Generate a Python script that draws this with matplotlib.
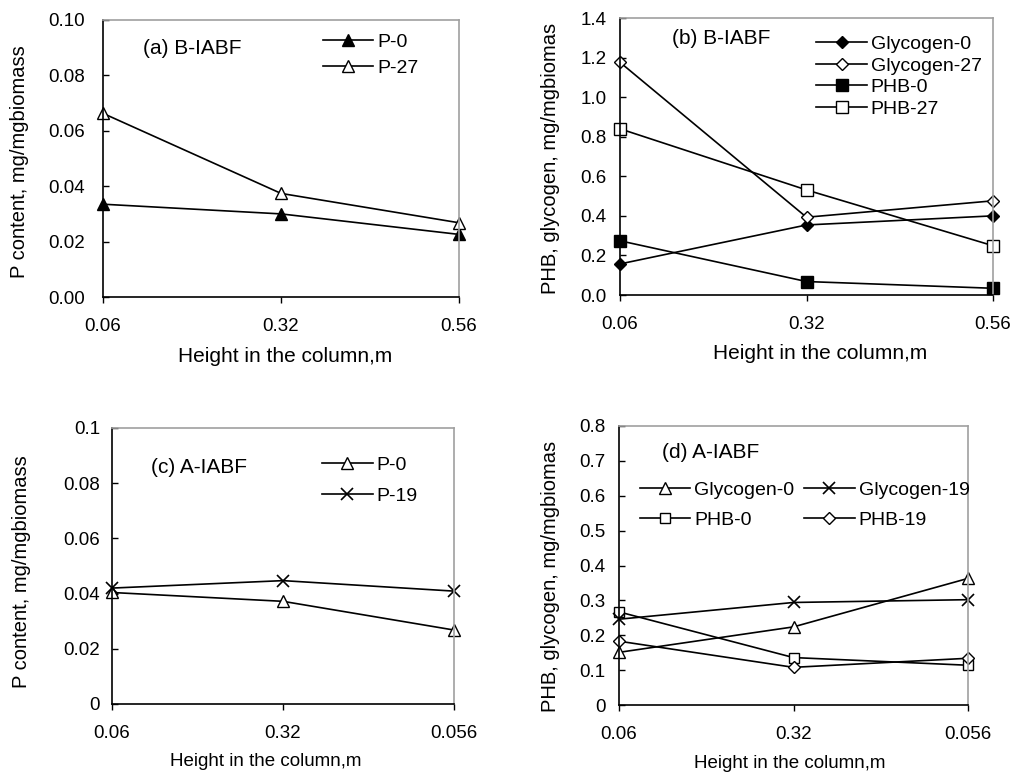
import matplotlib
matplotlib.use("Agg")
import matplotlib.pyplot as plt

plt.rcParams['font.family'] = ['Liberation Sans', 'DejaVu Sans']

# ---------------- data ----------------
heights_top = ["0.06", "0.32", "0.56"]
heights_bottom = ["0.06", "0.32", "0.056"]

a_p0 = [0.0335, 0.0300, 0.0226]
a_p27 = [0.0663, 0.0374, 0.0268]

b_glycogen0 = [0.157, 0.354, 0.400]
b_glycogen27 = [1.176, 0.393, 0.476]
b_phb0 = [0.274, 0.068, 0.034]
b_phb27 = [0.840, 0.531, 0.249]

c_p0 = [0.0404, 0.0372, 0.0268]
c_p19 = [0.0420, 0.0447, 0.0409]

d_glycogen0 = [0.151, 0.224, 0.363]
d_glycogen19 = [0.246, 0.294, 0.302]
d_phb0 = [0.267, 0.136, 0.114]
d_phb19 = [0.183, 0.108, 0.134]

a_yticks = [0.00, 0.02, 0.04, 0.06, 0.08, 0.10]
b_yticks = [0.0, 0.2, 0.4, 0.6, 0.8, 1.0, 1.2, 1.4]
c_yticks = [0, 0.02, 0.04, 0.06, 0.08, 0.1]
d_yticks = [0, 0.1, 0.2, 0.3, 0.4, 0.5, 0.6, 0.7, 0.8]

xlabel = "Height in the column,m"
ylabel_p = "P content, mg/mgbiomass"
ylabel_g = "PHB, glycogen, mg/mgbiomas"

W, H = 1014, 772
fig = plt.figure(figsize=(W / 100, H / 100), dpi=100)


def ax_at(l, t, r, b):
    return fig.add_axes([l / W, 1 - b / H, (r - l) / W, (b - t) / H])


def style(ax, cats, yticks, yfmt, ypad, xpad):
    x = list(range(len(cats)))
    ax.set_xlim(x[0], x[-1])
    ax.set_xticks(x)
    ax.set_xticklabels(cats)
    ax.set_ylim(yticks[0], yticks[-1])
    ax.set_yticks(yticks)
    ax.set_yticklabels([yfmt.format(v) if yfmt else ("0" if v == 0 else f"{v:g}") for v in yticks])
    for s in ("left", "bottom"):
        ax.spines[s].set_color("black")
        ax.spines[s].set_linewidth(1.2)
    for s in ("top", "right"):
        ax.spines[s].set_color("#a0a0a0")
        ax.spines[s].set_linewidth(1.2)
    ax.tick_params(axis="y", direction="in", length=4, width=1, pad=ypad, labelsize=13.5)
    ax.tick_params(axis="x", direction="out", length=4, width=1, pad=xpad, labelsize=13.5)


def place_labels(ax, xl, yl, xpos, ypos, size_x=15, size_y=14.5):
    ax.set_xlabel(xl, fontsize=size_x)
    ax.set_ylabel(yl, fontsize=size_y)
    ax.xaxis.set_label_coords(xpos[0] / W, 1 - xpos[1] / H, transform=fig.transFigure)
    ax.yaxis.set_label_coords(ypos[0] / W, 1 - ypos[1] / H, transform=fig.transFigure)
    ax.xaxis.label.set_verticalalignment("center")
    ax.yaxis.label.set_verticalalignment("center")


LW = 1.2
kw = dict(color="black", lw=LW, markeredgecolor="black", clip_on=False)

# ---------------- (a) ----------------
ax = ax_at(103, 20, 459, 297)
x = range(len(heights_top))
ax.plot(x, a_p0, marker="^", ms=9, markerfacecolor="black", label="P-0", **kw)
ax.plot(x, a_p27, marker="^", ms=9, markerfacecolor="white", label="P-27", **kw)
style(ax, heights_top, a_yticks, "{:.2f}", 13, 11)
place_labels(ax, xlabel, ylabel_p, (285, 357), (20, 162))
ax.text(143 / W, 1 - 49 / H, "(a) B-IABF", transform=fig.transFigure, fontsize=15, va="center", ha="left")
ax.legend(loc="upper left", bbox_to_anchor=((326 - 103) / 356 - 0.02, 1 - (25 - 20) / 277 - 0.016),
          frameon=False, fontsize=14, handlelength=2.6, handletextpad=0.2, labelspacing=0.45,
          borderaxespad=0.0, borderpad=0.2)

# ---------------- (b) ----------------
ax = ax_at(620, 18, 993, 295)
x = range(len(heights_top))
ax.plot(x, b_glycogen0, marker="D", ms=6, markerfacecolor="black", label="Glycogen-0", **kw)
ax.plot(x, b_glycogen27, marker="D", ms=6, markerfacecolor="white", label="Glycogen-27", **kw)
ax.plot(x, b_phb0, marker="s", ms=8, markerfacecolor="black", label="PHB-0", **kw)
ax.plot(x, b_phb27, marker="s", ms=8, markerfacecolor="white", label="PHB-27", **kw)
style(ax, heights_top, b_yticks, "{:.1f}", 9.5, 11)
place_labels(ax, xlabel, ylabel_g, (820, 353), (550, 158))
ax.text(672 / W, 1 - 39 / H, "(b) B-IABF", transform=fig.transFigure, fontsize=15, va="center", ha="left")
ax.legend(loc="upper left", bbox_to_anchor=((820 - 620) / 373 - 0.02, 1 - (30 - 18) / 277 - 0.006),
          frameon=False, fontsize=14, handlelength=2.6, handletextpad=0.2, labelspacing=0.2,
          borderaxespad=0.0, borderpad=0.2)

# ---------------- (c) ----------------
ax = ax_at(112, 428, 454, 704)
x = range(len(heights_bottom))
ax.plot(x, c_p0, marker="^", ms=9, markerfacecolor="white", label="P-0", **kw)
ax.plot(x, c_p19, marker="x", ms=9, mew=1.2, label="P-19", **kw)
style(ax, heights_bottom, c_yticks, None, 8.6, 11)
place_labels(ax, xlabel, ylabel_p, (266, 762), (22, 572), size_x=13.5)
ax.text(151 / W, 1 - 467 / H, "(c) A-IABF", transform=fig.transFigure, fontsize=15, va="center", ha="left")
ax.legend(loc="upper left", bbox_to_anchor=((325 - 112) / 342 - 0.02, 1 - (450 - 428) / 276 - 0.01),
          frameon=False, fontsize=14, handlelength=2.6, handletextpad=0.2, labelspacing=0.65,
          borderaxespad=0.0, borderpad=0.2)

# ---------------- (d) ----------------
ax = ax_at(619, 426, 968, 705)
x = range(len(heights_bottom))
ax.plot(x, d_glycogen0, marker="^", ms=9, markerfacecolor="white", label="Glycogen-0", **kw)
ax.plot(x, d_phb0, marker="s", ms=7, markerfacecolor="white", label="PHB-0", **kw)
ax.plot(x, d_glycogen19, marker="x", ms=9, mew=1.2, label="Glycogen-19", **kw)
ax.plot(x, d_phb19, marker="D", ms=6, markerfacecolor="white", label="PHB-19", **kw)
style(ax, heights_bottom, d_yticks, None, 9.5, 11)
place_labels(ax, xlabel, ylabel_g, (790, 764), (550, 576), size_x=13.5)
ax.text(662 / W, 1 - 452 / H, "(d) A-IABF", transform=fig.transFigure, fontsize=15, va="center", ha="left")
ax.legend(loc="upper left", bbox_to_anchor=((643 - 619) / 349 - 0.02, 1 - (476 - 426) / 279 - 0.005),
          ncol=2, frameon=False, fontsize=14, handlelength=2.6, handletextpad=0.2, labelspacing=0.65,
          columnspacing=0.5, borderaxespad=0.0, borderpad=0.2)

fig.savefig("out.png", dpi=100)
